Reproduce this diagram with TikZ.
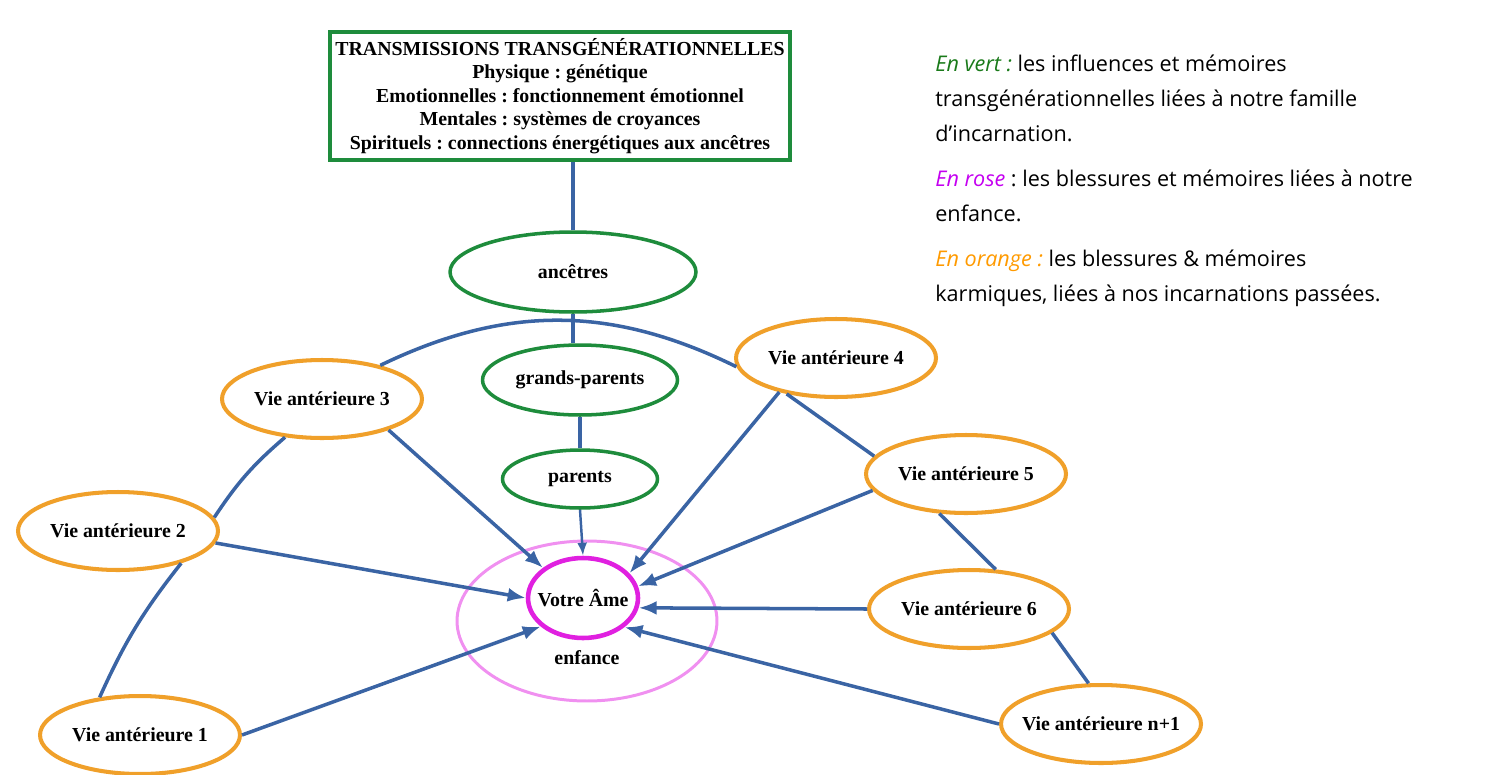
\documentclass[tikz,border=0pt]{standalone}
\usepackage{fontspec}
\setmainfont{Liberation Serif}
\newfontfamily\legendfont{Open Sans}
\usetikzlibrary{shapes.geometric, arrows.meta}
\frenchspacing

\definecolor{boxgreen}{HTML}{1E8C3C}
\definecolor{lifeorange}{HTML}{F0A02A}
\definecolor{linkblue}{HTML}{3A64A4}
\definecolor{soulmagenta}{HTML}{E020E0}
\definecolor{childpink}{HTML}{F090F0}
\definecolor{txtgreen}{HTML}{1A7A1A}
\definecolor{txtrose}{HTML}{C400F0}
\definecolor{txtorange}{HTML}{FF9A00}

\begin{document}
\begin{tikzpicture}[x=0.02cm, y=-0.02cm,
    every node/.style={font=\fontsize{11.3}{13.4}\selectfont\bfseries},
    family/.style={ellipse, draw=boxgreen, line width=2pt, fill=white, inner sep=0pt},
    life/.style={ellipse, draw=lifeorange, line width=2.3pt, fill=white, inner sep=0pt, inner xsep=-6pt, minimum width=4cm, minimum height=1.56cm},
    link/.style={draw=linkblue, line width=2pt},
    feed/.style={link, -{Latex[length=3.6mm, width=2.8mm]}}]

    \useasboundingbox (0,0) rectangle (1503,774);

    % Top box
    \node (trans) [rectangle, draw=boxgreen, line width=2.3pt, minimum width=9.2cm, minimum height=2.56cm, align=center] at (560,96) {TRANSMISSIONS TRANSGÉNÉRATIONNELLES\\ Physique : génétique\\ Emotionnelles : fonctionnement émotionnel\\ Mentales : systèmes de croyances\\ Spirituels : connections énergétiques aux ancêtres};

    % Family line
    \node (anc) [family, minimum width=4.92cm, minimum height=1.6cm] at (573,272) {ancêtres};
    \node (gp) [family, minimum width=3.9cm, minimum height=1.4cm] at (580,380) {grands-parents};
    \node (par) [family, minimum width=3.1cm, minimum height=1.16cm] at (580,479) {parents};
    \draw[link] (anc.north) -- (anc.north |- trans.south);
    \draw[link] (anc.south) -- (anc.south |- gp.north);
    \draw[link] (par.north) -- (par.north |- gp.south);

    % Soul and childhood
    \node (enf) [ellipse, draw=childpink, line width=1.7pt, minimum width=5.2cm, minimum height=3.2cm] at (587,621) {};
    \node (enflbl) at (587,658) {enfance};
    \node (ame) [ellipse, draw=soulmagenta, line width=2.6pt, fill=white, inner sep=0pt, inner xsep=-4pt, minimum width=2.2cm, minimum height=1.6cm] at (583,598) {Votre Âme};
    \draw[feed, line width=1.4pt, -{Latex[length=2.6mm, width=2mm]}] (par.south) -- (ame.north);

    % Past lives
    \node (v1) [life] at (140,735) {Vie antérieure 1};
    \node (v2) [life] at (118,531) {Vie antérieure 2};
    \node (v3) [life] at (322,399) {Vie antérieure 3};
    \node (v4) [life] at (836,358) {Vie antérieure 4};
    \node (v5) [life] at (966,474) {Vie antérieure 5};
    \node (v6) [life] at (969,609) {Vie antérieure 6};
    \node (vn) [life] at (1101,724) {Vie antérieure n+1};

    % Chain of lives
    \draw[link] (v1.137) to[bend left=7] (v2.-27);
    \draw[link] (v2.8) to[bend left=8] (v3.226);
    \draw[link] (v3.30) to[bend left=26] (v4.185);
    \draw[link] (v4.216) -- (v5.169);
    \draw[link] (v5.236) -- (v6.56);
    \draw[link] (v6.-16) -- (vn.107);

    % Arrows to the soul
    \draw[feed] (v1.east) -- (ame.214);
    \draw[feed] (v2.-7) -- (ame.west);
    \draw[feed] (v3.-25) -- (ame.143);
    \draw[feed] (v4.211) -- (ame.28);
    \draw[feed] (v5.190) -- (ame.12);
    \draw[feed] (v6.west) -- (ame.-10);
    \draw[feed] (vn.west) -- (ame.-35);

    % Legend
    \node (legend) [anchor=north west, inner sep=0pt, align=left, font=\legendfont\fontsize{12.3}{19.9}\selectfont] at (935,55) {{\color{txtgreen}\itshape En vert :} les influences et mémoires\\ transgénérationnelles liées à notre famille\\ d’incarnation.\\[5.7pt] {\color{txtrose}\itshape En rose} : les blessures et mémoires liées à notre\\ enfance.\\[5.7pt] {\color{txtorange}\itshape En orange :} les blessures \& mémoires\\ karmiques, liées à nos incarnations passées.};

\end{tikzpicture}
\end{document}
